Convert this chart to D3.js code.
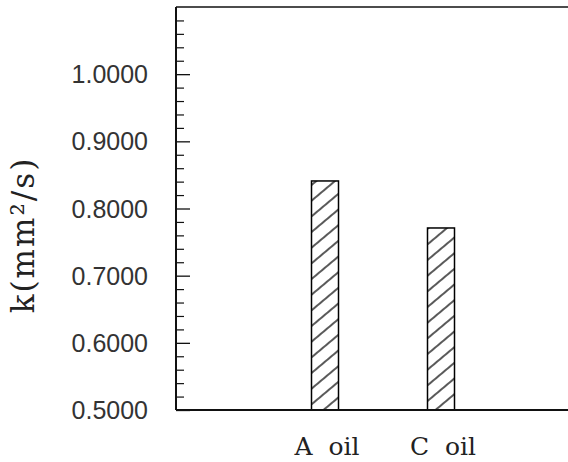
<!DOCTYPE html>
<html>
<head>
<meta charset="utf-8">
<script src="https://cdn.jsdelivr.net/npm/d3@7"></script>
<style>
  html, body { margin: 0; padding: 0; background: #fff; }
  svg { display: block; }
</style>
</head>
<body>
<div id="chart"></div>
<script>
// data
const categories = ['A oil', 'C oil'];
const values = [0.841, 0.771];
const tickValues = [0.5, 0.6, 0.7, 0.8, 0.9, 1.0];

const width = 568, height = 462;
const plotLeft = 176, plotTop = 7, plotBottom = 410, plotRight = 568;

const svg = d3.select('#chart').append('svg')
    .attr('width', width)
    .attr('height', height);

const y = d3.scaleLinear().domain([0.5, 1.1]).range([plotBottom, plotTop]);
const x = d3.scaleBand().domain(categories).range([267, 499]).padding(0);
const barW = 27;

// hatch pattern, lines going up to the right
const defs = svg.append('defs');
const pat = defs.append('pattern')
    .attr('id', 'hatch')
    .attr('patternUnits', 'userSpaceOnUse')
    .attr('width', 12)
    .attr('height', 12)
    .attr('patternTransform', 'rotate(-40)');
pat.append('rect').attr('width', 12).attr('height', 12).attr('fill', '#fff');
pat.append('line')
    .attr('x1', 0).attr('x2', 12)
    .attr('y1', 6).attr('y2', 6)
    .attr('stroke', '#000')
    .attr('stroke-width', 1.3);

// bars
svg.selectAll('.bar')
    .data(categories.map((c, i) => ({ c, v: values[i] })))
    .enter()
    .append('rect')
    .attr('class', 'bar')
    .attr('x', d => x(d.c) + x.bandwidth() / 2 - barW / 2)
    .attr('y', d => y(d.v))
    .attr('width', barW)
    .attr('height', d => plotBottom - y(d.v))
    .attr('fill', 'url(#hatch)')
    .attr('stroke', '#000')
    .attr('stroke-width', 1.5);

// frame: left, top, bottom
const frame = svg.append('g').attr('stroke', '#111').attr('fill', 'none');
frame.append('line').attr('x1', plotLeft).attr('x2', plotLeft).attr('y1', plotTop).attr('y2', plotBottom).attr('stroke-width', 2);
frame.append('line').attr('x1', plotLeft).attr('x2', plotRight).attr('y1', plotTop).attr('y2', plotTop).attr('stroke-width', 1.6);
frame.append('line').attr('x1', plotLeft).attr('x2', plotRight).attr('y1', plotBottom).attr('y2', plotBottom).attr('stroke-width', 2);

// left axis: major ticks inward, minor ticks every 0.02
svg.append('g')
    .attr('transform', `translate(${plotLeft},0)`)
    .call(d3.axisRight(y).tickValues(tickValues).tickSize(14).tickFormat(''))
    .call(g => g.select('.domain').remove())
    .call(g => g.selectAll('line').attr('stroke', '#111').attr('stroke-width', 1.3));

const minor = d3.range(26, 55).map(d => d / 50).filter(v => Math.abs(v * 10 - Math.round(v * 10)) > 1e-6);
svg.append('g')
    .attr('transform', `translate(${plotLeft},0)`)
    .call(d3.axisRight(y).tickValues(minor).tickSize(8).tickFormat(''))
    .call(g => g.select('.domain').remove())
    .call(g => g.selectAll('line').attr('stroke', '#111').attr('stroke-width', 1.2));

// tick labels
svg.append('g')
    .selectAll('text')
    .data(tickValues)
    .enter()
    .append('text')
    .attr('x', 148)
    .attr('y', d => y(d))
    .attr('dy', '0.36em')
    .attr('text-anchor', 'end')
    .attr('font-family', 'Liberation Sans, Arial, sans-serif')
    .attr('font-size', 25)
    .attr('fill', '#333')
    .text(d => d.toFixed(4));

// category labels
svg.append('g')
    .selectAll('text')
    .data(categories)
    .enter()
    .append('text')
    .attr('x', d => x(d) + x.bandwidth() / 2 + 2)
    .attr('y', 455)
    .attr('text-anchor', 'middle')
    .attr('font-family', 'DejaVu Serif, serif')
    .attr('font-size', 25)
    .attr('fill', '#222')
    .style('white-space', 'pre')
    .text(d => d.replace(' ', '  '));

// y axis title
svg.append('text')
    .attr('transform', 'translate(23,235) rotate(-90)')
    .attr('text-anchor', 'middle')
    .attr('dy', '0.35em')
    .attr('font-family', 'DejaVu Serif, serif')
    .attr('font-size', 31)
    .attr('letter-spacing', 2)
    .attr('fill', '#222')
    .text('k(mm²/s)');
</script>
</body>
</html>
